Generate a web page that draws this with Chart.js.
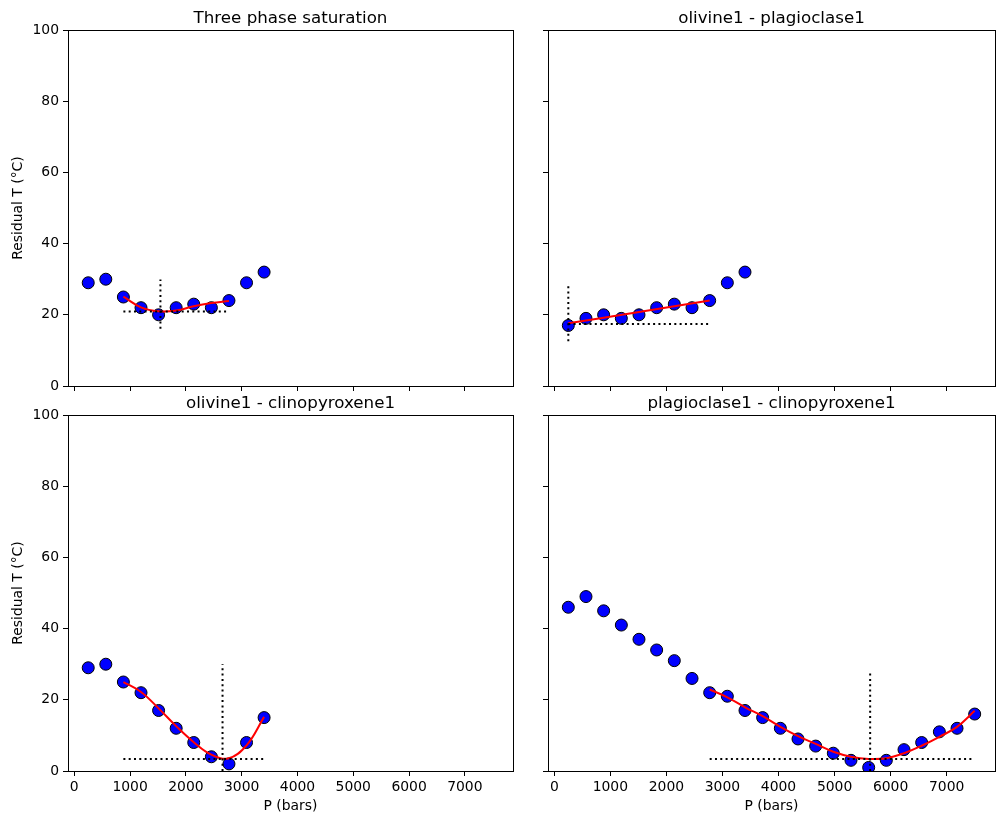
<!DOCTYPE html>
<html>
<head>
<meta charset="utf-8">
<script src="https://cdn.jsdelivr.net/npm/chart.js@4.4.0/dist/chart.umd.min.js"></script>
<style>
  body { margin: 0; background: #fff; width: 1004px; height: 824px; position: relative; overflow: hidden; }
  canvas { position: absolute; }
</style>
</head>
<body>
<canvas id="c1" width="520" height="400" style="left:0;top:0"></canvas>
<canvas id="c2" width="484" height="400" style="left:520px;top:0"></canvas>
<canvas id="c3" width="520" height="439" style="left:0;top:385px"></canvas>
<canvas id="c4" width="484" height="439" style="left:520px;top:385px"></canvas>
<script>
// pressures (bars) of the runs
const pressures = [250, 565, 880, 1196, 1511, 1826, 2141, 2457, 2772, 3087, 3402, 3717,
                   4033, 4348, 4663, 4978, 5293, 5609, 5924, 6239, 6554, 6870, 7185, 7500];
const xTicks = [0, 1000, 2000, 3000, 4000, 5000, 6000, 7000];
const yTicks = [0, 20, 40, 60, 80, 100];

// residual temperatures (°C)
const threePhaseT = [29, 30, 25, 22, 20, 22, 23, 22, 24, 29, 32];
const olPlagT = [17, 19, 20, 19, 20, 22, 23, 22, 24, 29, 32];
const olCpxT = [29, 30, 25, 22, 17, 12, 8, 4, 2, 8, 15];
const plagCpxT = [46, 49, 45, 41, 37, 34, 31, 26, 22, 21, 17, 15, 12, 9, 7, 5, 3, 1, 3, 6, 8, 11, 12, 16];

// fitted curves
const threePhaseFitP = [880, 1196, 1511, 1826, 2141, 2457, 2772];
const threePhaseFitT = [25.1, 22.1, 21.0, 21.2, 22.4, 23.3, 23.9];
const olPlagFitP = [250, 1511, 2772];
const olPlagFitT = [17.6, 20.8, 24.0];
const olCpxFitP = [880, 1196, 1511, 1826, 2141, 2457, 2772, 3087, 3402];
const olCpxFitT = [25.0, 22.2, 17.6, 12.6, 8.1, 4.6, 3.6, 7.2, 15.2];
const plagCpxFitP = [2772, 3087, 3402, 3717, 4033, 4348, 4663, 4978, 5293, 5609, 5924, 6239, 6554, 6870, 7185, 7500];
const plagCpxFitT = [22.9, 20.7, 17.9, 15.4, 12.4, 9.8, 7.6, 5.4, 4.0, 3.4, 3.6, 5.0, 7.1, 9.6, 12.4, 16.9];

// dotted guide lines: [pStart, pEnd, tStart, tEnd]
const threePhaseH = [880, 2772, 20.9, 20.9];
const threePhaseV = [1544, 1544, 16.1, 29.9];
const olPlagH = [250, 2772, 17.4, 17.4];
const olPlagV = [250, 250, 12.6, 28.6];
const olCpxH = [880, 3402, 3.4, 3.4];
const olCpxV = [2657, 2657, 0, 30];
const plagCpxH = [2772, 7500, 3.4, 3.4];
const plagCpxV = [5635, 5635, 0, 28.2];

Chart.defaults.font.family = 'DejaVu Sans';
Chart.defaults.font.size = 13.9;
Chart.defaults.color = '#000';

const framePlugin = {
    id: 'frame',
    afterDraw(chart) {
        const a = chart.chartArea;
        const ctx = chart.ctx;
        ctx.save();
        ctx.strokeStyle = '#000';
        ctx.lineWidth = 1;
        ctx.strokeRect(Math.round(a.left) + 0.5, Math.round(a.top) + 0.5,
                       Math.round(a.right - a.left), Math.round(a.bottom - a.top));
        ctx.restore();
    }
};

function pts(xs, ys) {
    return xs.map((x, i) => ({ x: x, y: ys[i] }));
}

function guide(g) {
    return {
        data: [{ x: g[0], y: g[2] }, { x: g[1], y: g[3] }],
        showLine: true, pointRadius: 0, borderColor: '#000', borderWidth: 2,
        borderDash: [2, 3.3], order: 0
    };
}

function makePanel(id, cfg) {
    const ctx = document.getElementById(id).getContext('2d');
    return new Chart(ctx, {
        type: 'scatter',
        data: {
            datasets: [
                guide(cfg.hLine),
                guide(cfg.vLine),
                {
                    data: pts(cfg.fitP, cfg.fitT),
                    showLine: true, pointRadius: 0, borderColor: '#ff0000', borderWidth: 2,
                    tension: 0.4, order: 1
                },
                {
                    data: pts(pressures.slice(0, cfg.temps.length), cfg.temps),
                    pointRadius: 6, pointBorderWidth: 1, pointBorderColor: '#000',
                    pointBackgroundColor: '#0000ff', order: 2
                }
            ]
        },
        options: {
            responsive: false,
            animation: false,
            events: [],
            layout: { padding: { left: 0, right: cfg.padRight, top: 0, bottom: cfg.padBottom } },
            plugins: {
                legend: { display: false },
                tooltip: { enabled: false },
                title: {
                    display: true, text: cfg.title, fullSize: false,
                    font: { size: 16.7, weight: 'normal' }, color: '#000',
                    padding: { top: 9, bottom: 1 }
                }
            },
            scales: {
                x: {
                    type: 'linear', min: -112.5, max: 7862.5,
                    afterBuildTicks: s => { s.ticks = xTicks.map(v => ({ value: v })); },
                    afterFit: s => { s.height = cfg.xHeight; },
                    ticks: {
                        maxRotation: 0, autoSkip: false, padding: 3,
                        callback: v => cfg.xLabels ? String(v) : ''
                    },
                    grid: { display: true, drawOnChartArea: false, drawTicks: true, tickLength: 5, tickColor: '#000' },
                    border: { display: false },
                    title: { display: cfg.xLabels, text: 'P (bars)', padding: { top: 0, bottom: 2 } }
                },
                y: {
                    type: 'linear', min: 0, max: 100,
                    afterBuildTicks: s => { s.ticks = yTicks.map(v => ({ value: v })); },
                    afterFit: s => { s.width = cfg.yWidth; },
                    ticks: { padding: 4, callback: v => cfg.yLabels ? String(v) : '' },
                    grid: { display: true, drawOnChartArea: false, drawTicks: true, tickLength: 5, tickColor: '#000' },
                    border: { display: false },
                    title: { display: cfg.yLabels, text: 'Residual T (°C)', padding: { top: 10, bottom: 0 } }
                }
            }
        },
        plugins: [framePlugin]
    });
}

makePanel('c1', {
    title: 'Three phase saturation', temps: threePhaseT, fitP: threePhaseFitP, fitT: threePhaseFitT,
    hLine: threePhaseH, vLine: threePhaseV,
    xLabels: false, yLabels: true, yWidth: 68, xHeight: 14, padRight: 6, padBottom: 0
});
makePanel('c2', {
    title: 'olivine1 - plagioclase1', temps: olPlagT, fitP: olPlagFitP, fitT: olPlagFitT,
    hLine: olPlagH, vLine: olPlagV,
    xLabels: false, yLabels: false, yWidth: 28, xHeight: 14, padRight: 9, padBottom: 0
});
makePanel('c3', {
    title: 'olivine1 - clinopyroxene1', temps: olCpxT, fitP: olCpxFitP, fitT: olCpxFitT,
    hLine: olCpxH, vLine: olCpxV,
    xLabels: true, yLabels: true, yWidth: 68, xHeight: 46, padRight: 6, padBottom: 7
});
makePanel('c4', {
    title: 'plagioclase1 - clinopyroxene1', temps: plagCpxT, fitP: plagCpxFitP, fitT: plagCpxFitT,
    hLine: plagCpxH, vLine: plagCpxV,
    xLabels: true, yLabels: false, yWidth: 28, xHeight: 46, padRight: 9, padBottom: 7
});
</script>
</body>
</html>
